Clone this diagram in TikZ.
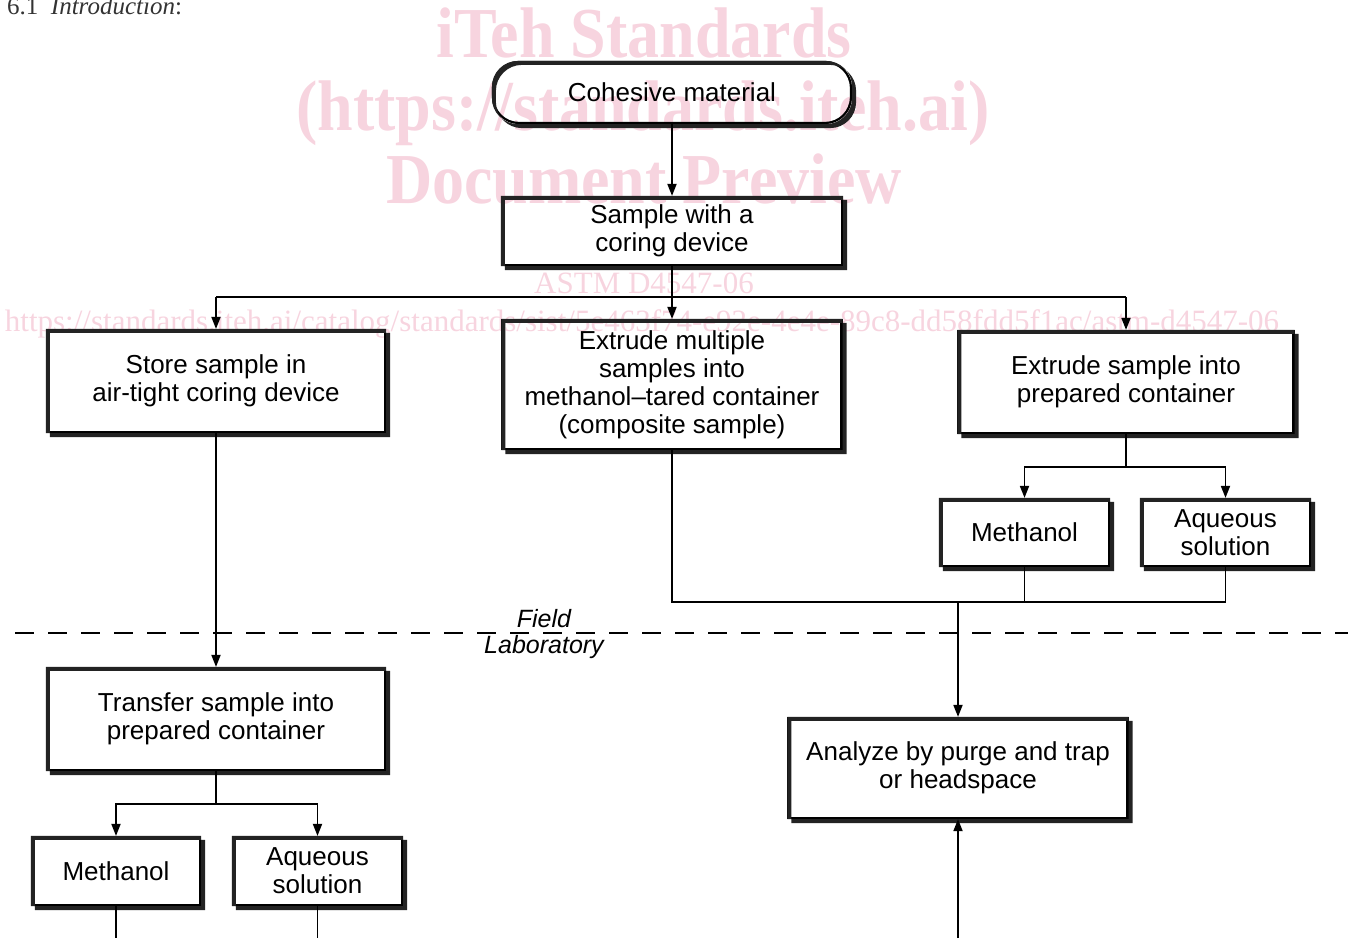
\documentclass[tikz,border=0pt]{standalone}
\usepackage{fontspec}
\usepackage{graphicx}
\setmainfont{Liberation Sans}
\newfontfamily\wmfont{Liberation Serif}
\usetikzlibrary{arrows.meta,calc}
\definecolor{wmpink}{RGB}{247,212,223}
\definecolor{shadowc}{RGB}{35,35,35}
\newcommand\boxshadow[2][0pt]{\fill[shadowc, even odd rule, rounded corners=#1] ($(#2.north west)+(4,4)$) rectangle ($(#2.south east)+(4,4)$) (#2.north west) rectangle (#2.south east);}
\tikzset{
  box/.style={draw, line width=2.2pt, align=center, inner sep=0pt, font=\fontsize{26}{28}\selectfont},
  conn/.style={line width=1.8pt},
  arr/.style={conn, -{Triangle[length=12pt,width=9pt]}},
  wm/.style={text=wmpink, inner sep=0pt, anchor=base},
  lbl/.style={inner sep=0pt, font=\fontsize{25}{27}\selectfont\itshape}
}
\begin{document}
\begin{tikzpicture}[x=1pt,y=-1pt]
\useasboundingbox (0,0) rectangle (1348,938);
% watermark
\node[wm, font=\wmfont\bfseries\fontsize{64}{64}\selectfont] (wm1) at (644,57) {\scalebox{1}[1.12]{iTeh Standards}};
\node[wm, font=\wmfont\bfseries\fontsize{64}{64}\selectfont] (wm2) at (643,130) {\scalebox{1}[1.12]{(https://standards.iteh.ai)}};
\node[wm, font=\wmfont\bfseries\fontsize{64}{64}\selectfont] (wm3) at (644,203) {\scalebox{1}[1.12]{Document Preview}};
\node[wm, font=\wmfont\fontsize{31}{31}\selectfont] (wm4) at (644,293) {ASTM D4547-06};
\node[wm, font=\wmfont\fontsize{31}{31}\selectfont] (wm5) at (642,331) {https://standards.iteh.ai/catalog/standards/sist/5e463f74-e92e-4e4e-89c8-dd58fdd5f1ac/astm-d4547-06};
% heading
\node[inner sep=0pt, anchor=base west, text=black!80, font=\wmfont\fontsize{25}{25}\selectfont] (head) at (7,14) {6.1\enspace\textit{Introduction}:};
% boxes
\node[box, rounded corners=26pt, minimum width=358, minimum height=61] (coh) at (672,92.5) {Cohesive material};
\node[box, minimum width=340, minimum height=68] (samp) at (672,231) {Sample with a\\coring device};
\node[box, minimum width=338, minimum height=102] (store) at (216,381) {Store sample in\\air-tight coring device};
\node[box, minimum width=339, minimum height=129] (multi) at (672,384.5) {Extrude multiple\\samples into\\methanol--tared container\\(composite sample)};
\node[box, minimum width=335, minimum height=102] (extr) at (1126,382) {Extrude sample into\\prepared container};
\node[box, minimum width=169, minimum height=67] (methR) at (1024.5,532.5) {Methanol};
\node[box, minimum width=169, minimum height=67] (aqR) at (1225.5,532.5) {Aqueous\\solution};
\node[box, minimum width=338, minimum height=102] (trans) at (216,719) {Transfer sample into\\prepared container};
\node[box, minimum width=339, minimum height=100] (anal) at (958,768) {Analyze by purge and trap\\or headspace};
\node[box, minimum width=168, minimum height=68] (methL) at (116,871) {Methanol};
\node[box, minimum width=169, minimum height=68] (aqL) at (317.5,871) {Aqueous\\solution};
% shadows
\boxshadow[26pt]{coh}
\boxshadow{samp}
\boxshadow{store}
\boxshadow{multi}
\boxshadow{extr}
\boxshadow{methR}
\boxshadow{aqR}
\boxshadow{trans}
\boxshadow{anal}
\boxshadow{methL}
\boxshadow{aqL}
% coordinates
\coordinate (busL) at (216,297);
\coordinate (busR) at (1126,297);
\coordinate (join) at (672,602);
\coordinate (bot) at (0,938);
% connectors
\draw[arr] (coh.south) -- (samp.north);
\draw[conn] (busL) -- (busR);
\draw[arr] (samp.south) -- (multi.north);
\draw[arr] (busL) -- (store.north);
\draw[arr] (busR) -- (extr.north);
\draw[arr] (store.south) -- (trans.north);
\draw[arr] (extr.south) -- ++(0,33) -| (methR.north);
\draw[arr] (extr.south) -- ++(0,33) -| (aqR.north);
\draw[conn] (multi.south) -- (join) -- (aqR.south |- join) -- (aqR.south);
\draw[conn] (methR.south) -- (methR.south |- join);
\draw[arr] (anal.north |- join) -- (anal.north);
\draw[arr] (trans.south) -- ++(0,33) -| (methL.north);
\draw[arr] (trans.south) -- ++(0,33) -| (aqL.north);
\draw[conn] (methL.south) -- (methL.south |- bot);
\draw[conn] (aqL.south) -- (aqL.south |- bot);
\draw[arr] (anal.south |- bot) -- (anal.south);
% field / laboratory divider
\draw[line width=1.3pt, dash pattern=on 19pt off 14pt] (15,633) -- (1348,633);
\node[lbl] (field) at (544,619) {Field};
\node[lbl] (lab) at (544,647) {Laboratory};
\end{tikzpicture}
\end{document}
